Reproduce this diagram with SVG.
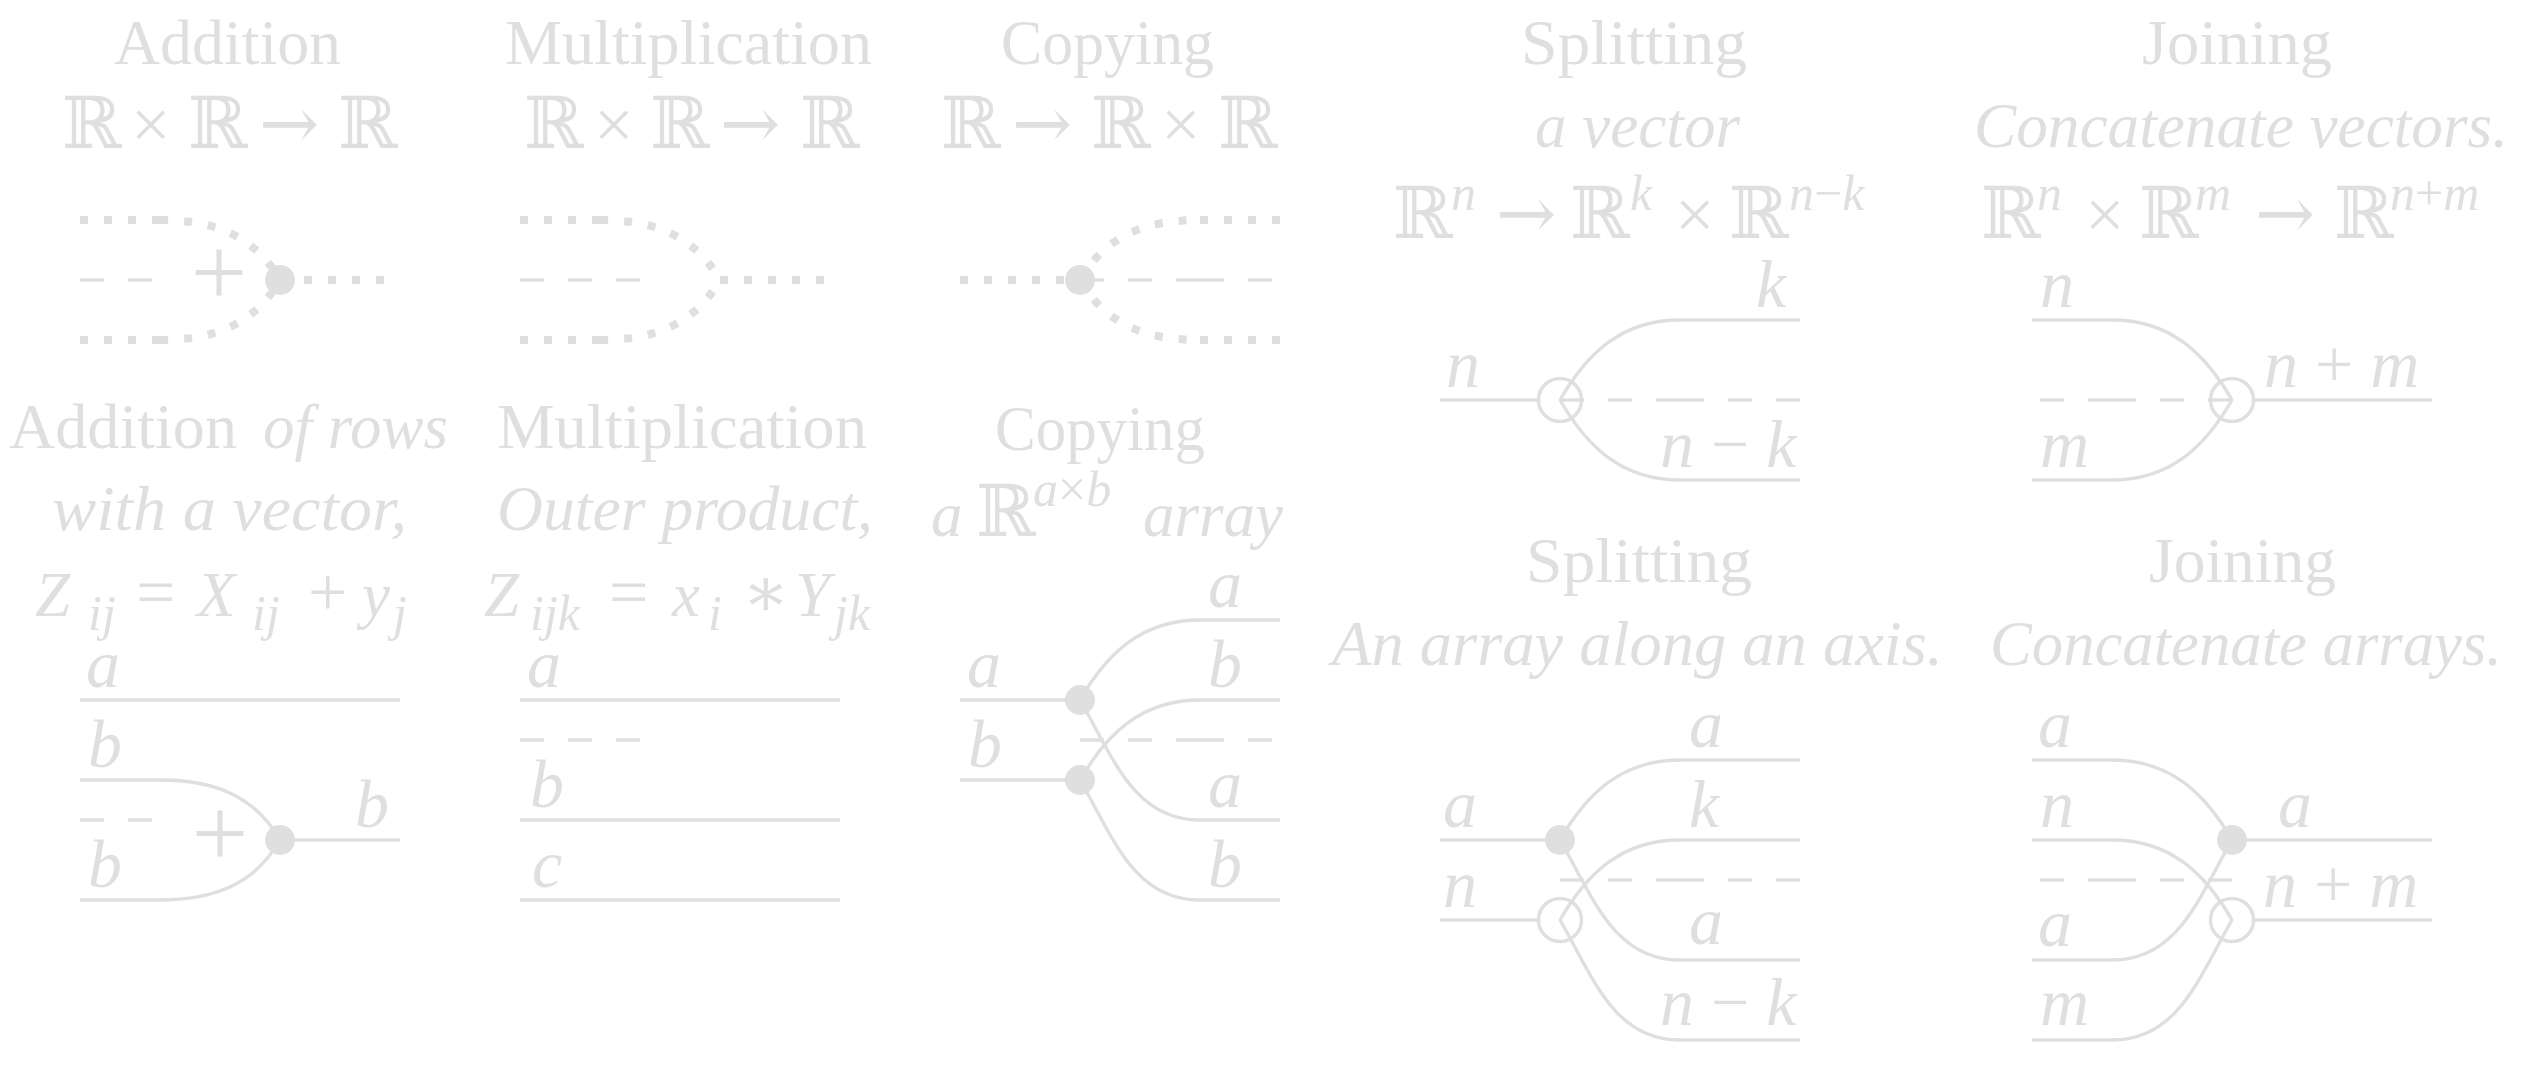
<svg xmlns="http://www.w3.org/2000/svg" width="2545" height="1071" viewBox="0 0 2545 1071">
<style>
.tx{font-family:"Liberation Serif","DejaVu Serif",serif;fill:#dfdfdf;font-size:63px}
.it{font-style:italic}
.up{font-style:normal}
.lb{font-family:"Liberation Serif","DejaVu Serif",serif;font-style:italic;fill:#dfdfdf;font-size:68px}
.bb{font-family:"DejaVu Serif","DejaVu Sans",serif;font-size:72px;font-style:normal}
.op{font-family:"Liberation Serif","DejaVu Serif",serif;font-size:70px;font-style:normal}
.ar{font-family:"DejaVu Serif","DejaVu Sans",serif;font-size:72px;font-style:normal}
.sp{font-family:"Liberation Serif","DejaVu Serif",serif;font-size:50px;font-style:italic}
.plus{font-family:"Liberation Serif","DejaVu Serif",serif;font-size:100px;fill:#dfdfdf}
.wire{fill:none;stroke:#dfdfdf;stroke-width:3.4}
.dash{fill:none;stroke:#dfdfdf;stroke-width:3.4;stroke-dasharray:24 24}
.dot{fill:none;stroke:#dfdfdf;stroke-width:8;stroke-dasharray:8 16}
.fn{fill:#dfdfdf}
.on{fill:none;stroke:#dfdfdf;stroke-width:3.4}
</style>

<g id="titles">
  <text class="tx" x="114" y="64" textLength="227" lengthAdjust="spacingAndGlyphs">Addition</text>
  <text class="tx" x="505" y="64" textLength="367" lengthAdjust="spacingAndGlyphs">Multiplication</text>
  <text class="tx" x="1001" y="64" textLength="213" lengthAdjust="spacingAndGlyphs">Copying</text>
  <text class="tx" x="1521" y="64" textLength="226" lengthAdjust="spacingAndGlyphs">Splitting</text>
  <text class="tx" x="2142" y="64" textLength="190" lengthAdjust="spacingAndGlyphs">Joining</text>
  <text class="tx it" x="1535" y="147" textLength="205" lengthAdjust="spacingAndGlyphs">a vector</text>
  <text class="tx it" x="1974" y="147" textLength="534" lengthAdjust="spacingAndGlyphs">Concatenate vectors.</text>

  <text class="tx" y="148"><tspan class="bb" x="62">ℝ</tspan><tspan class="op" x="131">×</tspan><tspan class="bb" x="188">ℝ</tspan><tspan class="ar" x="259">→</tspan><tspan class="bb" x="338">ℝ</tspan></text>
  <text class="tx" y="148"><tspan class="bb" x="524">ℝ</tspan><tspan class="op" x="594">×</tspan><tspan class="bb" x="650">ℝ</tspan><tspan class="ar" x="720">→</tspan><tspan class="bb" x="800">ℝ</tspan></text>
  <text class="tx" y="148"><tspan class="bb" x="941">ℝ</tspan><tspan class="ar" x="1012">→</tspan><tspan class="bb" x="1091">ℝ</tspan><tspan class="op" x="1161">×</tspan><tspan class="bb" x="1218">ℝ</tspan></text>
  <text class="tx" y="238"><tspan class="bb" x="1393">ℝ</tspan><tspan class="sp" x="1451" y="210">n</tspan><tspan class="ar" x="1496" y="238">→</tspan><tspan class="bb" x="1570">ℝ</tspan><tspan class="sp" x="1630" y="210">k</tspan><tspan class="op" x="1675" y="238">×</tspan><tspan class="bb" x="1729">ℝ</tspan><tspan class="sp" x="1789" y="210">n<tspan class="up">−</tspan>k</tspan></text>
  <text class="tx" y="238"><tspan class="bb" x="1981">ℝ</tspan><tspan class="sp" x="2037" y="210">n</tspan><tspan class="op" x="2085" y="238">×</tspan><tspan class="bb" x="2139">ℝ</tspan><tspan class="sp" x="2195" y="210">m</tspan><tspan class="ar" x="2255" y="238">→</tspan><tspan class="bb" x="2334">ℝ</tspan><tspan class="sp" x="2390" y="210">n<tspan class="up">+</tspan>m</tspan></text>

  <text class="tx" x="9" y="448" textLength="228" lengthAdjust="spacingAndGlyphs">Addition</text>
  <text class="tx it" x="263" y="448" textLength="185" lengthAdjust="spacingAndGlyphs">of rows</text>
  <text class="tx it" x="52" y="530" textLength="355" lengthAdjust="spacingAndGlyphs">with a vector,</text>
  <text class="tx" x="497" y="448" textLength="370" lengthAdjust="spacingAndGlyphs">Multiplication</text>
  <text class="tx it" x="497" y="530" textLength="376" lengthAdjust="spacingAndGlyphs">Outer product,</text>
  <text class="tx" x="995" y="450" textLength="210" lengthAdjust="spacingAndGlyphs">Copying</text>
  <text class="tx" x="1526" y="582" textLength="226" lengthAdjust="spacingAndGlyphs">Splitting</text>
  <text class="tx" x="2149" y="582" textLength="187" lengthAdjust="spacingAndGlyphs">Joining</text>
  <text class="tx it" x="1332" y="665" textLength="611" lengthAdjust="spacingAndGlyphs">An array along an axis.</text>
  <text class="tx it" x="1990" y="665" textLength="512" lengthAdjust="spacingAndGlyphs">Concatenate arrays.</text>

  <text class="tx it" y="616" font-size="70"><tspan x="35">Z</tspan><tspan class="sp" x="88" y="630">ij</tspan><tspan class="op" x="136" y="616">=</tspan><tspan x="197">X</tspan><tspan class="sp" x="252" y="630">ij</tspan><tspan class="op" x="308" y="616">+</tspan><tspan x="362">y</tspan><tspan class="sp" x="393" y="630">j</tspan></text>
  <text class="tx it" y="616" font-size="70"><tspan x="484">Z</tspan><tspan class="sp" x="530" y="630">ijk</tspan><tspan class="op" x="609" y="616">=</tspan><tspan x="672">x</tspan><tspan class="sp" x="708" y="630">i</tspan><tspan class="op" x="742" y="616">∗</tspan><tspan x="795">Y</tspan><tspan class="sp" x="834" y="630">jk</tspan></text>
  <text class="tx it" y="536" font-size="62"><tspan x="931">a</tspan><tspan class="bb" x="976">ℝ</tspan><tspan class="sp" x="1033" y="506">a<tspan class="up">×</tspan>b</tspan><tspan x="1143" y="536">array</tspan></text>
</g>

<g id="connectors">
  <!-- row 1 addition -->
  <path class="dot" d="M80,220 H160"/>
  <path class="dot" d="M160,220 C212.5,220 253.7,234.5 280,280"/>
  <path class="dot" d="M80,340 H160"/>
  <path class="dot" d="M160,340 C212.5,340 253.7,325.5 280,280"/>
  <path class="dash" d="M80,280 H160"/>
  <path class="dot" d="M280,280 H400"/>
  <!-- row 1 multiplication -->
  <path class="dot" d="M520,220 H600"/>
  <path class="dot" d="M600,220 C652.5,220 693.7,234.5 720,280"/>
  <path class="dot" d="M520,340 H600"/>
  <path class="dot" d="M600,340 C652.5,340 693.7,325.5 720,280"/>
  <path class="dash" d="M520,280 H640"/>
  <path class="dot" d="M720,280 H840"/>
  <!-- row 1 copying -->
  <path class="dot" d="M960,280 H1080"/>
  <path class="dot" d="M1080,280 C1106.3,234.5 1147.5,220 1200,220"/>
  <path class="dot" d="M1200,220 H1280"/>
  <path class="dot" d="M1080,280 C1106.3,325.5 1147.5,340 1200,340"/>
  <path class="dot" d="M1200,340 H1280"/>
  <path class="dash" d="M1080,280 H1200"/>
  <path class="dash" d="M1200,280 H1280"/>
  <!-- row 1 splitting -->
  <path class="wire" d="M1440,400 H1539"/>
  <path class="wire" d="M1560,400 C1588.2,351.1 1623.5,320 1680,320 H1800"/>
  <path class="wire" d="M1560,400 C1588.2,448.9 1623.5,480 1680,480 H1800"/>
  <path class="dash" d="M1560,400 H1680"/>
  <path class="dash" d="M1680,400 H1800"/>
  <!-- row 1 joining -->
  <path class="wire" d="M2032,320 H2112 C2168.5,320 2203.8,351.1 2232,400"/>
  <path class="wire" d="M2032,480 H2112 C2168.5,480 2203.8,448.9 2232,400"/>
  <path class="dash" d="M2040,400 H2112"/>
  <path class="dash" d="M2112,400 H2232"/>
  <path class="wire" d="M2253,400 H2432"/>
  <!-- row 2 addition of rows -->
  <path class="wire" d="M80,700 H400"/>
  <path class="wire" d="M80,780 H160 C212.5,780 253.7,794.5 280,840"/>
  <path class="wire" d="M80,900 H160 C212.5,900 253.7,885.5 280,840"/>
  <path class="dash" d="M80,820 H160"/>
  <path class="wire" d="M280,840 H400"/>
  <!-- row 2 outer product -->
  <path class="wire" d="M520,700 H840"/>
  <path class="dash" d="M520,740 H640"/>
  <path class="wire" d="M520,820 H840"/>
  <path class="wire" d="M520,900 H840"/>
  <!-- row 2 copying -->
  <path class="wire" d="M960,700 H1080"/>
  <path class="wire" d="M960,780 H1080"/>
  <path class="wire" d="M1080,700 C1108.2,651.1 1143.5,620 1200,620 H1280"/>
  <path class="wire" d="M1080,700 C1113.2,757.5 1133.6,820 1200,820 H1280"/>
  <path class="wire" d="M1080,780 C1108.2,731.1 1143.5,700 1200,700 H1280"/>
  <path class="wire" d="M1080,780 C1113.2,837.5 1133.6,900 1200,900 H1280"/>
  <path class="dash" d="M1080,740 H1200"/>
  <path class="dash" d="M1200,740 H1280"/>
  <!-- row 2 splitting -->
  <path class="wire" d="M1440,840 H1560"/>
  <path class="wire" d="M1440,920 H1539"/>
  <path class="wire" d="M1560,840 C1588.2,791.1 1623.5,760 1680,760 H1800"/>
  <path class="wire" d="M1560,840 C1593.2,897.5 1613.6,960 1680,960 H1800"/>
  <path class="wire" d="M1560,920 C1588.2,871.1 1623.5,840 1680,840 H1800"/>
  <path class="wire" d="M1560,920 C1593.2,977.5 1613.6,1040 1680,1040 H1800"/>
  <path class="dash" d="M1560,880 H1680"/>
  <path class="dash" d="M1680,880 H1800"/>
  <!-- row 2 joining -->
  <path class="wire" d="M2032,760 H2112 C2168.5,760 2203.8,791.1 2232,840"/>
  <path class="wire" d="M2032,960 H2112 C2178.4,960 2198.8,897.5 2232,840"/>
  <path class="wire" d="M2032,840 H2112 C2168.5,840 2203.8,871.1 2232,920"/>
  <path class="wire" d="M2032,1040 H2112 C2178.4,1040 2198.8,977.5 2232,920"/>
  <path class="dash" d="M2040,880 H2112"/>
  <path class="dash" d="M2112,880 H2232"/>
  <path class="wire" d="M2232,840 H2432"/>
  <path class="wire" d="M2253,920 H2432"/>
</g>

<g id="nodes">
  <g id="add1"><circle class="fn" cx="280" cy="280" r="15"/><text class="plus" x="219" y="306" text-anchor="middle">+</text></g>
  <g id="copy1"><circle class="fn" cx="1080" cy="280" r="15"/></g>
  <g id="split1"><circle class="on" cx="1560" cy="400" r="21.5"/></g>
  <g id="join1"><circle class="on" cx="2232" cy="400" r="21.5"/></g>
  <g id="add2"><circle class="fn" cx="280" cy="840" r="15"/><text class="plus" x="220" y="867" text-anchor="middle">+</text></g>
  <g id="copy2a"><circle class="fn" cx="1080" cy="700" r="15"/></g>
  <g id="copy2b"><circle class="fn" cx="1080" cy="780" r="15"/></g>
  <g id="split2a"><circle class="fn" cx="1560" cy="840" r="15"/></g>
  <g id="split2n"><circle class="on" cx="1560" cy="920" r="21.5"/></g>
  <g id="join2a"><circle class="fn" cx="2232" cy="840" r="15"/></g>
  <g id="join2n"><circle class="on" cx="2232" cy="920" r="21.5"/></g>
</g>

<g id="labels">
  <text class="lb" x="1756" y="307">k</text>
  <text class="lb" x="1446" y="387">n</text>
  <text class="lb" x="1660" y="467">n <tspan class="up">−</tspan> k</text>
  <text class="lb" x="2040" y="307">n</text>
  <text class="lb" x="2040" y="467">m</text>
  <text class="lb" x="2264" y="387">n <tspan class="up">+</tspan> m</text>

  <text class="lb" x="86" y="687">a</text>
  <text class="lb" x="88" y="767">b</text>
  <text class="lb" x="88" y="887">b</text>
  <text class="lb" x="355" y="827">b</text>
  <text class="lb" x="527" y="687">a</text>
  <text class="lb" x="530" y="807">b</text>
  <text class="lb" x="532" y="887">c</text>
  <text class="lb" x="967" y="687">a</text>
  <text class="lb" x="968" y="767">b</text>
  <text class="lb" x="1208" y="607">a</text>
  <text class="lb" x="1208" y="687">b</text>
  <text class="lb" x="1208" y="807">a</text>
  <text class="lb" x="1208" y="887">b</text>

  <text class="lb" x="1443" y="827">a</text>
  <text class="lb" x="1443" y="907">n</text>
  <text class="lb" x="1689" y="747">a</text>
  <text class="lb" x="1689" y="827">k</text>
  <text class="lb" x="1689" y="944">a</text>
  <text class="lb" x="1660" y="1025">n <tspan class="up">−</tspan> k</text>
  <text class="lb" x="2038" y="747">a</text>
  <text class="lb" x="2040" y="827">n</text>
  <text class="lb" x="2038" y="946">a</text>
  <text class="lb" x="2040" y="1025">m</text>
  <text class="lb" x="2278" y="827">a</text>
  <text class="lb" x="2263" y="907">n <tspan class="up">+</tspan> m</text>
</g>
</svg>
